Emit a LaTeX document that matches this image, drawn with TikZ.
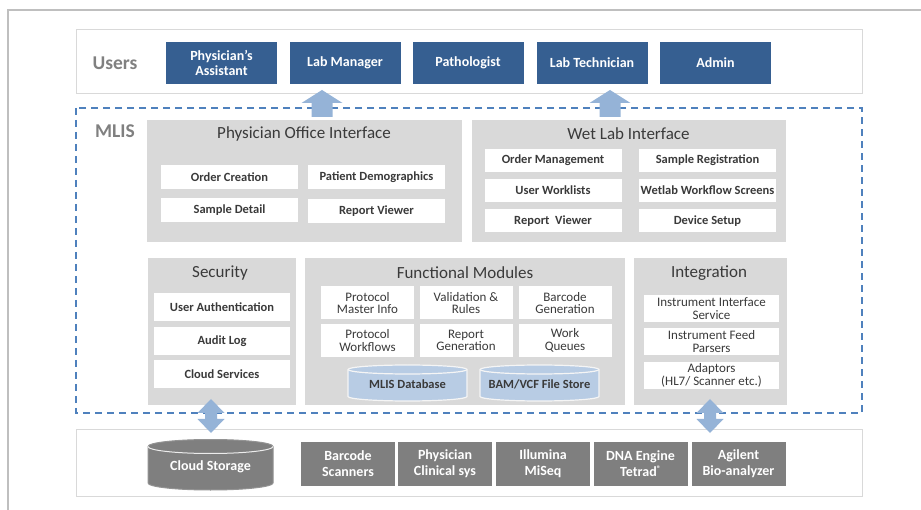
\documentclass[tikz,border=0pt]{standalone}
\usepackage{fontspec}
\setmainfont{Carlito}
\usepackage{tikz}
\usetikzlibrary{calc}
\definecolor{userblue}{HTML}{365F91}
\definecolor{panelgray}{HTML}{D9D9D9}
\definecolor{extgray}{HTML}{7F7F7F}
\definecolor{dashblue}{HTML}{4F81BD}
\definecolor{flowblue}{HTML}{95B3D7}
\definecolor{dbblue}{HTML}{B8CCE4}
\definecolor{ink}{HTML}{3A3A3A}
\definecolor{bandgray}{HTML}{808080}
\definecolor{framegray}{HTML}{BFBFBF}
\tikzset{
  band/.style={draw=panelgray, fill=white, line width=0.8pt},
  layer/.style={draw=dashblue, line width=1.2pt, dash pattern=on 7pt off 5pt},
  panel/.style={fill=panelgray},
  flow/.style={fill=flowblue},
  bandlbl/.style={text=bandgray, font=\bfseries\fontsize{19.5}{20}\selectfont},
  title/.style={text=ink, font=\fontsize{17}{18}\selectfont},
  userbox/.style={fill=userblue, text=white, font=\bfseries\fontsize{14}{15.5}\selectfont,
    minimum width=111pt, minimum height=42pt, inner sep=0pt, align=center},
  item/.style={fill=white, text=ink, font=\bfseries\fontsize{12.5}{13}\selectfont,
    inner sep=0pt, align=center},
  itemr/.style={item, font=\fontsize{13}{12.5}\selectfont},
  extbox/.style={fill=extgray, text=white, font=\bfseries\fontsize{14}{16}\selectfont,
    minimum width=94pt, minimum height=44pt, inner sep=0pt, align=center},
  dbcyl/.style={fill=dbblue, draw=white!92!gray, line width=1.2pt},
  cloudcyl/.style={fill=extgray, draw=gray!85, line width=1pt},
  dblbl/.style={text=ink, font=\bfseries\fontsize{12.5}{13}\selectfont},
}
\begin{document}
\begin{tikzpicture}[x=1pt,y=1pt]
  \useasboundingbox (0,0) rectangle (921,-510);
  \draw[framegray, line width=1.5pt] (921,-10) -- (8,-10) -- (8,-510);

  % bands
  \draw[band] (76,-29) rectangle (862,-93);
  \draw[band] (76,-429) rectangle (862,-496);
  \draw[layer] (76,-108) rectangle (862,-413);
  \node[bandlbl] (users) at (115,-63) {Users};
  \node[bandlbl] (mlis) at (115,-131) {MLIS};

  % users
  \node[userbox] (pa) at (221.5,-63) {Physician’s\\Assistant};
  \node[userbox] (lm) at (345,-63) {Lab Manager};
  \node[userbox] (path) at (468,-63) {Pathologist};
  \node[userbox] (lt) at (592,-63) {Lab Technician};
  \node[userbox] (adm) at (715.5,-63) {Admin};

  % interfaces
  \fill[panel] (147,-120) rectangle (462,-242);
  \fill[panel] (472,-120) rectangle (786,-242);
  \node[title] (poi) at (304,-134) {Physician Office Interface};
  \node[title] (wli) at (628.5,-134) {Wet Lab Interface};
  \begin{scope}[every node/.style={item, minimum width=137pt, minimum height=24pt}]
    \node (oc) at (229.5,-177) {Order Creation};
    \node (pd) at (376.5,-177) {Patient Demographics};
    \node (sd) at (229.5,-210.5) {Sample Detail};
    \node (rv) at (376.5,-211) {Report Viewer};
  \end{scope}
  \begin{scope}[every node/.style={item, minimum width=137pt, minimum height=23pt}]
    \node (om) at (553,-160.5) {Order Management};
    \node (sr) at (707.5,-160.5) {Sample Registration};
    \node (uw) at (553,-190.5) {User Worklists};
    \node (ws) at (707.5,-190.5) {Wetlab Workflow Screens};
    \node (rv2) at (553,-221) {Report\ \ Viewer};
    \node (ds) at (707.5,-221) {Device Setup};
  \end{scope}

  % security, modules, integration
  \fill[panel] (148,-258) rectangle (296,-405);
  \fill[panel] (305,-258) rectangle (625,-405);
  \fill[panel] (634,-258) rectangle (787,-405);
  \node[title] (sec) at (220,-273) {Security};
  \node[title] (fm) at (465,-273) {Functional Modules};
  \node[title] (intg) at (709,-273) {Integration};
  \begin{scope}[every node/.style={item, minimum width=136pt, minimum height=28pt}]
    \node (ua) at (222,-307.5) {User Authentication};
    \node (al) at (222,-341) {Audit Log};
    \node (cs) at (222,-374.5) {Cloud Services};
  \end{scope}
  \begin{scope}[every node/.style={itemr, minimum width=93pt, minimum height=33pt}]
    \node (pmi) at (367.5,-303) {Protocol\\Master Info};
    \node (vr) at (466,-303) {Validation \&\\Rules};
    \node (bg) at (565,-303) {Barcode\\Generation};
    \node (pw) at (367.5,-340.5) {Protocol\\Workflows};
    \node (rg) at (466,-340.5) {Report\\Generation};
    \node (wq) at (565,-340.5) {Work\\Queues};
  \end{scope}
  \begin{scope}[every node/.style={itemr, minimum width=135pt, minimum height=27pt}]
    \node (iis) at (711.5,-308.5) {Instrument Interface\\Service};
    \node (ifp) at (711.5,-341.5) {Instrument Feed\\Parsers};
    \node (ada) at (711.5,-375.5) {Adaptors\\(HL7/ Scanner etc.)};
  \end{scope}

  % data stores
  \foreach \xa/\xb in {348/467, 480/599}{
    \filldraw[dbcyl] (\xa,-369.5) -- (\xa,-396.5)
      arc[start angle=180, end angle=360, x radius={(\xb-\xa)/2}, y radius=4.5]
      -- (\xb,-369.5)
      arc[start angle=0, end angle=180, x radius={(\xb-\xa)/2}, y radius=4.5] -- cycle;
    \draw[dbcyl, fill=none] (\xa,-369.5)
      arc[start angle=180, end angle=360, x radius={(\xb-\xa)/2}, y radius=4.5];
  }
  \node[dblbl] (db) at (407.5,-384.5) {MLIS Database};
  \node[dblbl] (bam) at (539.5,-384.5) {BAM/VCF File Store};

  % external systems
  \filldraw[cloudcyl] (148,-446.5) -- (148,-483)
    arc[start angle=180, end angle=360, x radius=62.5, y radius=7]
    -- (273,-446.5)
    arc[start angle=0, end angle=180, x radius=62.5, y radius=7] -- cycle;
  \draw[white!85!gray, line width=1pt] (148,-446.5)
    arc[start angle=180, end angle=360, x radius=62.5, y radius=7];
  \node[text=white, font=\bfseries\fontsize{14}{16}\selectfont] (cst) at (210.5,-467) {Cloud Storage};
  \node[extbox] (bcs) at (348,-464) {Barcode\\Scanners};
  \node[extbox] (pcs) at (445,-464) {Physician\\Clinical sys};
  \node[extbox] (ilm) at (543,-464) {Illumina\\MiSeq};
  \node[extbox] (dna) at (640.5,-464) {DNA Engine\\Tetrad\raisebox{0.8ex}{\fontsize{8}{8}\selectfont ®}};
  \node[extbox] (agl) at (738.5,-464) {Agilent\\Bio-analyzer};

  % arrows between layers
  \foreach \cx in {322,610}
    \fill[flow] (\cx-10.5,-117) -- (\cx-10.5,-103) -- (\cx-20.5,-103) -- (\cx,-90)
      -- (\cx+20.5,-103) -- (\cx+10.5,-103) -- (\cx+10.5,-117) -- cycle;
  \foreach \cx in {211,710}
    \fill[flow] (\cx,-399) -- (\cx+13.5,-413) -- (\cx+6,-413) -- (\cx+6,-419)
      -- (\cx+13.5,-419) -- (\cx,-433) -- (\cx-13.5,-419) -- (\cx-6,-419)
      -- (\cx-6,-413) -- (\cx-13.5,-413) -- cycle;
\end{tikzpicture}
\end{document}
